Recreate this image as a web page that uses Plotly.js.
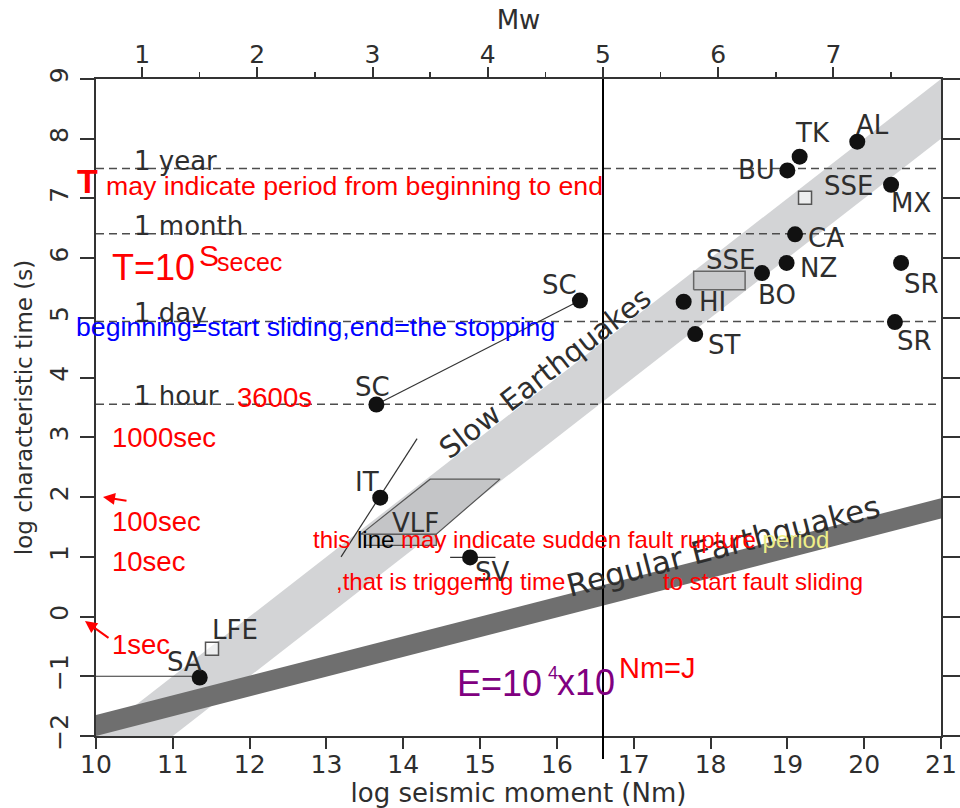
<!DOCTYPE html>
<html><head><meta charset="utf-8">
<script src="https://cdn.plot.ly/plotly-3.0.1.min.js"></script>
<style>html,body{margin:0;padding:0;background:#fff}#chart{width:960px;height:808px}</style>
</head><body><div id="chart"></div>
<script>
// ---- data (log seismic moment in Nm, log characteristic time in s) ----
const pointNames  = ['TK','AL','BU','MX','CA','NZ','BO','HI','ST','SR','SR','SC','SC','IT','SV','SA'];
const pointMoment = [19.16,19.91,19.00,20.35,19.10,18.99,18.67,17.65,17.80,20.48,20.40,16.30,13.65,13.70,14.87,11.35];
const pointTime   = [7.70, 7.95, 7.47, 7.23, 6.40, 5.92, 5.75, 5.27, 4.73, 5.92, 4.93, 5.29, 3.55, 1.99, 0.99,-1.02];

const squareNames  = ['SSE','LFE'];
const squareMoment = [19.23, 11.51];
const squareTime   = [7.01, -0.54];

const sseRectMoment = [17.78, 18.45, 18.45, 17.78, 17.78];
const sseRectTime   = [5.47, 5.47, 5.78, 5.78, 5.47];

const vlfMoment = [13.45, 14.35, 15.26, 14.43, 13.45];
const vlfTime   = [1.38, 2.30, 2.30, 1.38, 1.38];
const vlfBarMoment = [13.50, 14.43, 14.43, 13.50, 13.50];
const vlfBarTime   = [1.19, 1.19, 1.38, 1.38, 1.19];

const itLineMoment = [13.19, 14.18];
const itLineTime   = [1.00, 2.98];
const svLineMoment = [14.61, 15.20];
const svLineTime   = [0.99, 0.99];
const saLineMoment = [10.0, 11.35];
const saLineTime   = [-1.0, -1.0];

const slowBandMoment = [10, 21, 21, 11, 10];
const slowBandTime   = [-2, 9, 8, -2, -2];
const regBandMoment  = [10, 21, 21, 10, 10];
const regBandTime    = [-1.65, 1.98, 1.64, -2, -1.65];

const timeLabels = ['1 year','1 month','1 day','1 hour'];
const timeValues = [7.50, 6.41, 4.94, 3.556];

const xRange = [10, 21];
const yRange = [-2, 9];
const mwMarker = 5;
const mwTicks = [1,2,3,4,5,6,7];
const momentToMw = m => (m - 9.1) / 1.5;
const mwToMoment = w => 1.5 * w + 9.1;

// ---- styling / layout helpers ----
const GRAY = '#2e2e2e';
const FONT = 'DejaVu Sans';
const RFONT = 'Liberation Sans, Arial, sans-serif';
const PL = 96, PT = 79, PW = 845, PH = 657;
const px = x => (x - PL) / PW;
const py = y => (PT + PH - y) / PH;

// label offsets in pixels [dx, dy(down)]
const pointLabelOffsets = [[13,-24],[15,-17],[-31,0],[20,18],[31,4],[32,5],[15,22],[29,0],[29,11],[20,21],[20,19],[-20,-16],[-4,-18],[-13,-16],[22,15],[-15,-15]];
const squareLabelOffsets = [[43,-12],[23,-19]];

const traces = [];
traces.push({x: slowBandMoment, y: slowBandTime, mode:'lines', fill:'toself', fillcolor:'#d3d4d6', line:{width:0}, hoverinfo:'skip', showlegend:false});
traces.push({x: regBandMoment, y: regBandTime, mode:'lines', fill:'toself', fillcolor:'#6f6f6f', line:{width:0}, hoverinfo:'skip', showlegend:false});
timeValues.forEach(v => traces.push({x: xRange, y:[v, v], mode:'lines', line:{color:'#4d4d4d', width:1.5, dash:'8px,5px'}, hoverinfo:'skip', showlegend:false}));
traces.push({x: vlfBarMoment, y: vlfBarTime, mode:'lines', fill:'toself', fillcolor:'#c4c5c7', line:{color:'#555', width:1.2}, hoverinfo:'skip', showlegend:false});
traces.push({x: vlfMoment, y: vlfTime, mode:'lines', fill:'toself', fillcolor:'#c4c5c7', line:{color:'#555', width:1.2}, hoverinfo:'skip', showlegend:false});
traces.push({x: sseRectMoment, y: sseRectTime, mode:'lines', fill:'toself', fillcolor:'#c9cacc', line:{color:'#666', width:1.5}, hoverinfo:'skip', showlegend:false});
traces.push({x: itLineMoment, y: itLineTime, mode:'lines', line:{color:'#333', width:1.2}, hoverinfo:'skip', showlegend:false});
traces.push({x: svLineMoment, y: svLineTime, mode:'lines', line:{color:'#333', width:1.2}, hoverinfo:'skip', showlegend:false});
traces.push({x: saLineMoment, y: saLineTime, mode:'lines', line:{color:'#333', width:1.2}, hoverinfo:'skip', showlegend:false});
const scIdx = pointNames.map((n,i)=>n==='SC'?i:-1).filter(i=>i>=0);
traces.push({x: scIdx.map(i=>pointMoment[i]), y: scIdx.map(i=>pointTime[i]), mode:'lines', line:{color:'#333', width:1.2}, hoverinfo:'skip', showlegend:false});
traces.push({x: squareMoment, y: squareTime, mode:'markers', marker:{symbol:'square', size:13, color:'rgba(255,255,255,0.6)', line:{color:'#555', width:1.5}}, text: squareNames, showlegend:false});
traces.push({x: pointMoment, y: pointTime, mode:'markers', marker:{symbol:'circle', size:16, color:'#111'}, text: pointNames, showlegend:false});
// empty traces so the Mw (top), right and long-tick axes are created
traces.push({x: [], y: [], xaxis:'x2', yaxis:'y', mode:'markers', showlegend:false, hoverinfo:'skip'});
traces.push({x: [], y: [], xaxis:'x', yaxis:'y2', mode:'markers', showlegend:false, hoverinfo:'skip'});
traces.push({x: [], y: [], xaxis:'x3', yaxis:'y', mode:'markers', showlegend:false, hoverinfo:'skip'});
traces.push({x: [], y: [], xaxis:'x4', yaxis:'y', mode:'markers', showlegend:false, hoverinfo:'skip'});

const LBL = 26;
const annotations = [];
pointNames.forEach((n,i) => annotations.push({x: pointMoment[i], y: pointTime[i], xref:'x', yref:'y', text:n, showarrow:false, xanchor:'center', yanchor:'middle',
  xshift: pointLabelOffsets[i][0], yshift: -pointLabelOffsets[i][1], font:{family:FONT, size:LBL, color:GRAY}}));
squareNames.forEach((n,i) => annotations.push({x: squareMoment[i], y: squareTime[i], xref:'x', yref:'y', text:n, showarrow:false, xanchor:'center', yanchor:'middle',
  xshift: squareLabelOffsets[i][0], yshift: -squareLabelOffsets[i][1], font:{family:FONT, size:LBL, color:GRAY}}));
const mean = a => a.slice(0,-1).reduce((s,v)=>s+v,0)/(a.length-1);
annotations.push({x: mean(sseRectMoment), y: mean(sseRectTime), text:'SSE', showarrow:false, xanchor:'center', yanchor:'middle', xshift:11, yshift:21, font:{family:FONT, size:LBL, color:GRAY}});
annotations.push({x: mean(vlfMoment), y: mean(vlfTime), text:'VLF', showarrow:false, xanchor:'center', yanchor:'middle', xshift:-16, yshift:-16, font:{family:FONT, size:LBL, color:GRAY}});
timeLabels.forEach((t,i) => annotations.push({x: 10.5, y: timeValues[i], text:t, showarrow:false, xanchor:'left', yanchor:'bottom', xshift:-2, yshift:-9, font:{family:FONT, size:26, color:GRAY}}));
annotations.push({x: px(545), y: py(373), xref:'paper', yref:'paper', xanchor:'center', yanchor:'middle', text:'Slow Earthquakes', textangle:-37.8, showarrow:false, font:{family:FONT, size:29, color:GRAY}});
annotations.push({x: px(723), y: py(546), xref:'paper', yref:'paper', xanchor:'center', yanchor:'middle', text:'Regular Earthquakes', textangle:-14.5, showarrow:false, font:{family:FONT, size:31, color:GRAY}});

// free notes
const note = (x, y, text, size, color) => annotations.push({x: px(x), y: py(y), xref:'paper', yref:'paper', text, showarrow:false, xanchor:'left', yanchor:'middle', font:{family:RFONT, size, color}});
note(75, 181, '<b>T</b>', 34, '#ff0000');
note(104, 186, 'may indicate period from beginning to end', 26.7, '#ff0000');
note(110, 267, 'T=10', 36, '#ff0000');
note(197, 255, 'S', 30, '#ff0000');
note(215, 262, 'secec', 25, '#ff0000');
note(74, 327, 'beginning=start sliding,end=the stopping', 26.7, '#0000ff');
note(235, 397, '3600s', 27.5, '#ff0000');
note(110, 437, '1000sec', 27.5, '#ff0000');
note(110, 521, '100sec', 27.5, '#ff0000');
note(110, 561, '10sec', 27.5, '#ff0000');
note(110, 644, '1sec', 27.5, '#ff0000');
note(311, 539, 'this <span style="color:#000000">line</span> may indicate sudden fault rupture <span style="color:#eeee88">period</span>', 24, '#ff0000');
note(334, 581, ',that is triggering time', 24, '#ff0000');
note(661, 581, 'to start fault sliding', 24, '#ff0000');
note(455, 683, 'E=10', 36, '#800080');
note(546, 673, '4', 18, '#800080');
note(555, 682, 'x10', 36, '#800080');
note(617, 668, 'Nm=J', 29, '#ff0000');
// arrows
annotations.push({x: px(103), y: py(497), xref:'paper', yref:'paper', text:'', showarrow:true, ax:25, ay:4, arrowhead:2, arrowsize:1.2, arrowwidth:2, arrowcolor:'#ff0000', standoff:0});
annotations.push({x: px(85), y: py(621), xref:'paper', yref:'paper', text:'', showarrow:true, ax:25, ay:18, arrowhead:2, arrowsize:1.2, arrowwidth:2, arrowcolor:'#ff0000', standoff:0});

const axisCommon = {showgrid:false, zeroline:false, ticks:'outside', tickwidth:2, tickcolor:'#333', linecolor:'#333', linewidth:2};
const layout = {
  width:960, height:808,
  margin:{l:PL, r:960-PL-PW, t:PT, b:808-PT-PH},
  paper_bgcolor:'#fff', plot_bgcolor:'#fff',
  font:{family:FONT, color:GRAY},
  showlegend:false,
  xaxis: Object.assign({}, axisCommon, {range:xRange, dtick:1, tick0:10, ticklen:5, showline:true, mirror:true, automargin:false,
    tickfont:{family:FONT, size:25, color:GRAY},
    title:{text:'log seismic moment (Nm)', font:{family:FONT, size:26, color:GRAY}, standoff:16}}),
  xaxis3: Object.assign({}, axisCommon, {overlaying:'x', side:'bottom', anchor:'y', range:xRange, dtick:1, tick0:10, ticklen:12, showline:false, showticklabels:false, automargin:false}),
  xaxis2: Object.assign({}, axisCommon, {overlaying:'x', side:'top', anchor:'y', range:xRange.map(momentToMw), tickvals:mwTicks, ticklen:5, showline:false, automargin:false,
    minor:{dtick:0.5, tick0:0, ticks:'outside', ticklen:6, tickwidth:1.5, tickcolor:'#333'},
    tickfont:{family:FONT, size:25, color:GRAY},
    title:{text:'Mw', font:{family:FONT, size:26, color:GRAY}, standoff:2}}),
  xaxis4: Object.assign({}, axisCommon, {overlaying:'x', side:'top', anchor:'y', range:xRange.map(momentToMw), tickvals:mwTicks, ticklen:11, showline:false, showticklabels:false, automargin:false}),
  yaxis: Object.assign({}, axisCommon, {range:yRange, dtick:1, tick0:0, ticklen:14, tickangle:-90, showline:true, mirror:true, automargin:false,
    tickfont:{family:FONT, size:25, color:GRAY}, ticklabelstandoff:2,
    title:{text:'log characteristic time (s)', font:{family:FONT, size:23, color:GRAY}, standoff:6}}),
  yaxis2: Object.assign({}, axisCommon, {overlaying:'y', side:'right', anchor:'x', range:yRange, dtick:1, tick0:0, ticklen:19, showline:false, showticklabels:false}),
  shapes:[{type:'line', xref:'x', yref:'paper', x0:mwToMoment(mwMarker), x1:mwToMoment(mwMarker), y0:-0.035, y1:1, line:{color:'#000', width:2}, layer:'above'}],
  annotations
};
Plotly.newPlot('chart', traces, layout, {staticPlot:true, displayModeBar:false});
</script></body></html>
